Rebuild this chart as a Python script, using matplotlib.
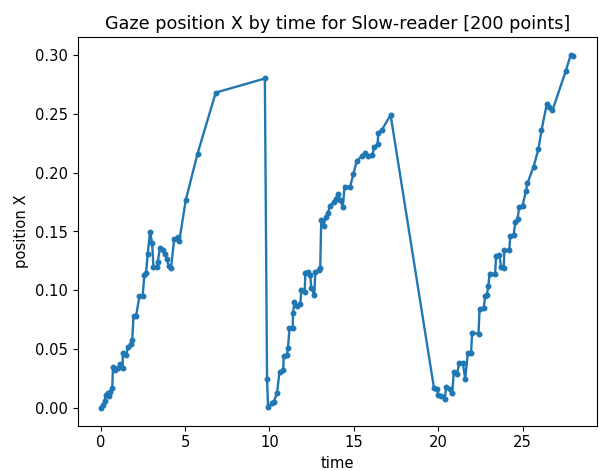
import matplotlib
matplotlib.use("Agg")
import matplotlib.pyplot as plt

# gaze samples
time = [0.04, 0.14, 0.24, 0.29, 0.43, 0.49, 0.57, 0.69, 0.73, 0.83,
        1.02, 1.12, 1.31, 1.31, 1.52, 1.61, 1.81, 1.87, 1.95, 2.10,
        2.30, 2.49, 2.59, 2.69, 2.79, 2.93, 3.05, 3.13, 3.32, 3.38,
        3.52, 3.67, 3.83, 3.91, 4.03, 4.17, 4.36, 4.56, 4.66, 5.05,
        5.74, 6.82, 9.73, 9.86, 9.92, 10.16, 10.26, 10.45, 10.60, 10.81,
        10.85, 11.04, 11.10, 11.19, 11.38, 11.40, 11.48, 11.63, 11.83, 11.89,
        12.09, 12.13, 12.28, 12.42, 12.48, 12.66, 12.72, 12.91, 13.01, 13.07,
        13.21, 13.34, 13.46, 13.60, 13.80, 13.93, 14.05, 14.19, 14.35, 14.45,
        14.78, 14.98, 15.17, 15.47, 15.67, 15.86, 16.10, 16.21, 16.41, 16.45,
        16.65, 17.18,
        19.75, 19.95, 19.99, 20.18, 20.38, 20.48, 20.68, 20.83, 20.93, 21.13,
        21.23, 21.46, 21.60, 21.76, 21.95, 22.01, 22.39, 22.45, 22.70, 22.78,
        22.88, 22.98, 23.04, 23.37, 23.43, 23.63, 23.72, 23.88, 23.92, 24.21,
        24.27, 24.47, 24.57, 24.70, 24.81, 25.00, 25.19, 25.29, 25.65, 25.94,
        26.12, 26.43, 26.57, 26.77, 27.55, 27.85, 28.01]
pos_x = [0.000, 0.003, 0.006, 0.011, 0.013, 0.010, 0.014, 0.017, 0.035, 0.032,
         0.034, 0.037, 0.034, 0.047, 0.045, 0.052, 0.054, 0.058, 0.078, 0.078,
         0.095, 0.095, 0.113, 0.115, 0.131, 0.150, 0.140, 0.120, 0.120, 0.124,
         0.136, 0.134, 0.131, 0.127, 0.121, 0.119, 0.144, 0.145, 0.142, 0.177,
         0.216, 0.268, 0.280, 0.025, 0.001, 0.004, 0.005, 0.013, 0.031, 0.032,
         0.044, 0.045, 0.051, 0.068, 0.068, 0.081, 0.090, 0.087, 0.088, 0.100,
         0.099, 0.115, 0.116, 0.113, 0.102, 0.096, 0.116, 0.117, 0.119, 0.160,
         0.155, 0.162, 0.166, 0.172, 0.175, 0.178, 0.182, 0.177, 0.171, 0.188,
         0.188, 0.199, 0.210, 0.214, 0.217, 0.214, 0.215, 0.222, 0.224, 0.234,
         0.236, 0.249,
         0.017, 0.016, 0.011, 0.010, 0.008, 0.018, 0.016, 0.013, 0.031, 0.029,
         0.038, 0.038, 0.025, 0.047, 0.047, 0.064, 0.063, 0.084, 0.085, 0.095,
         0.096, 0.104, 0.114, 0.114, 0.129, 0.130, 0.120, 0.119, 0.134, 0.134,
         0.146, 0.147, 0.158, 0.161, 0.171, 0.172, 0.184, 0.191, 0.205, 0.220,
         0.236, 0.258, 0.256, 0.253, 0.286, 0.300, 0.299]

plt.rcParams['font.size'] = 10.6
fig = plt.figure(figsize=(5.99, 4.71), dpi=100)
ax = fig.add_axes([77.7/599, (471-425.7)/471, (597-77.7)/599, (425.7-37.3)/471])
ax.plot(time, pos_x, '.-', color='#1f77b4', lw=1.7, ms=6.5)
ax.set_title("Gaze position X by time for Slow-reader [200 points]", fontsize=12.7)
ax.set_xlabel("time")
ax.set_ylabel("position X")
fig.savefig("out.png", dpi=100)
